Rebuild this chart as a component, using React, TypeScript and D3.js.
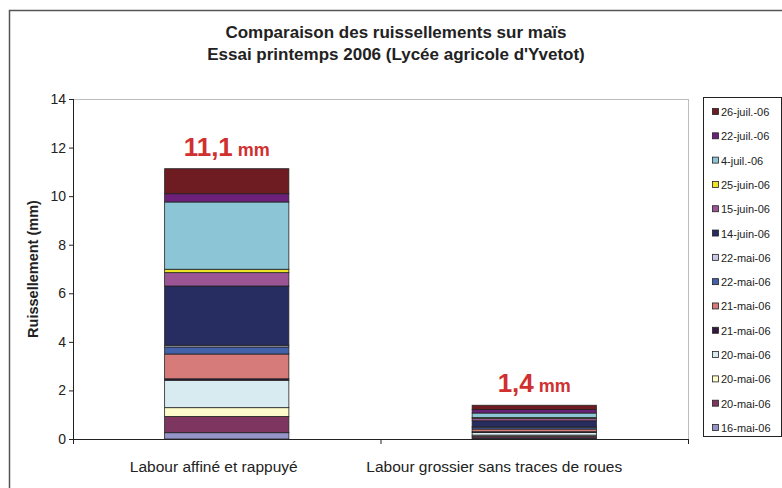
import React from "react";
import * as d3 from "d3";

// categories (x axis)
const categories = ["Labour affiné et rappuyé", "Labour grossier sans traces de roues"];

// series, bottom of the stack first
const seriesNames = [
  "16-mai-06",
  "20-mai-06",
  "20-mai-06",
  "20-mai-06",
  "21-mai-06",
  "21-mai-06",
  "22-mai-06",
  "22-mai-06",
  "14-juin-06",
  "15-juin-06",
  "25-juin-06",
  "4-juil.-06",
  "22-juil.-06",
  "26-juil.-06",
];
const seriesColors = [
  "#9494C8",
  "#7E3560",
  "#FFFCCB",
  "#D8EBF1",
  "#34183F",
  "#D67A7A",
  "#4361A8",
  "#C9C8E6",
  "#272C61",
  "#9B5595",
  "#EDE428",
  "#8BC5D6",
  "#6C2079",
  "#6E1C21",
];

// values per series for [bar 1, bar 2]
const valuesAffine = [0.26, 0.67, 0.36, 1.13, 0.06, 1.02, 0.29, 0.07, 2.44, 0.55, 0.14, 2.77, 0.34, 1.03];
const valuesGrossier = [0.04, 0.07, 0.05, 0.11, 0.03, 0.11, 0.08, 0.01, 0.25, 0.1, 0.03, 0.19, 0.14, 0.18];

const totalLabels = ["11,1", "1,4"];
const yTicks = [0, 2, 4, 6, 8, 10, 12, 14];

const FONT = "Arial, 'Liberation Sans', sans-serif";

export default function App() {
  // plot area
  const left = 73;
  const right = 688;
  const top = 99;
  const bottom = 439;

  const x = d3.scaleBand().domain(categories).range([left, right]).padding(0);
  const y = d3.scaleLinear().domain([0, 14]).range([bottom, top]);
  const barW = x.bandwidth() * 0.404;
  // category labels sit a bit left of the bar centre in the original
  const labelShift = [-13, -40];

  const keys = seriesNames.map((_, i) => "s" + i);
  const rows = categories.map((c, ci) => {
    const row: any = { cat: c };
    keys.forEach((k, i) => {
      row[k] = ci === 0 ? valuesAffine[i] : valuesGrossier[i];
    });
    return row;
  });
  const stacked = d3.stack().keys(keys)(rows);
  const totals = rows.map((r) => d3.sum(keys, (k) => r[k]));

  // legend (top item = last series)
  const legendOrder = seriesNames.map((_, i) => i).reverse();
  const legendY = d3.scalePoint().domain(legendOrder.map(String)).range([112, 428]);

  return (
    <svg width={782} height={488} style={{ position: "absolute", left: 0, top: 0 }}>
      <rect x={0} y={0} width={782} height={488} fill="#fff" />
      {/* chart border */}
      <rect x={9.5} y={10.5} width={790} height={500} fill="none" stroke="#555" strokeWidth={1.5} />

      {/* title */}
      <text x={396} y={38} textAnchor="middle" fontFamily={FONT} fontWeight="bold" fontSize={17} fill="#222">
        Comparaison des ruissellements sur maïs
      </text>
      <text x={396} y={60} textAnchor="middle" fontFamily={FONT} fontWeight="bold" fontSize={17} fill="#222">
        Essai printemps 2006 (Lycée agricole d'Yvetot)
      </text>

      {/* plot area border */}
      <line x1={left} x2={right} y1={top + 0.5} y2={top + 0.5} stroke="#BDBDBD" />
      <line x1={right + 0.5} x2={right + 0.5} y1={top} y2={bottom} stroke="#BDBDBD" />

      {/* bars */}
      {stacked.map((layer, li) => (
        <g key={li}>
          {layer.map((d, ci) => {
            const cx = (x(categories[ci]) as number) + x.bandwidth() / 2;
            return (
              <rect
                key={ci}
                x={cx - barW / 2}
                y={y(d[1])}
                width={barW}
                height={Math.max(0, y(d[0]) - y(d[1]))}
                fill={seriesColors[li]}
                stroke="#222"
                strokeWidth={0.8}
              />
            );
          })}
        </g>
      ))}

      {/* y axis */}
      <line x1={left + 0.5} x2={left + 0.5} y1={top} y2={bottom} stroke="#222" />
      {yTicks.map((t) => (
        <g key={t}>
          <line x1={left - 4} x2={left} y1={y(t) + 0.5} y2={y(t) + 0.5} stroke="#222" />
          <text x={left - 7} y={y(t) + 5} textAnchor="end" fontFamily={FONT} fontSize={14} fill="#222">
            {t}
          </text>
        </g>
      ))}
      <text
        transform={`translate(38,${(top + bottom) / 2}) rotate(-90)`}
        textAnchor="middle"
        fontFamily={FONT}
        fontWeight="bold"
        fontSize={14.5}
        fill="#222"
      >
        Ruissellement (mm)
      </text>

      {/* x axis */}
      <line x1={left} x2={right} y1={bottom + 0.5} y2={bottom + 0.5} stroke="#222" />
      {[left, left + x.bandwidth(), right].map((tx, i) => (
        <line key={i} x1={tx + 0.5} x2={tx + 0.5} y1={bottom} y2={bottom + 5} stroke="#222" />
      ))}
      {categories.map((c, ci) => (
        <text
          key={c}
          x={(x(c) as number) + x.bandwidth() / 2}
          dx={labelShift[ci]}
          y={472}
          textAnchor="middle"
          fontFamily={FONT}
          fontSize={15.5}
          fill="#222"
        >
          {c}
        </text>
      ))}

      {/* totals */}
      {categories.map((c, ci) => (
        <text
          key={c}
          x={(x(c) as number) + x.bandwidth() / 2}
          y={y(totals[ci]) - 13}
          textAnchor="middle"
          fontFamily={FONT}
          fontWeight="bold"
          fill="#D0302F"
        >
          <tspan fontSize={26}>{totalLabels[ci]}</tspan>
          <tspan fontSize={18}> mm</tspan>
        </text>
      ))}

      {/* legend */}
      <rect x={703.5} y={97.5} width={78} height={339} fill="#fff" stroke="#222" />
      {legendOrder.map((i) => {
        const ly = legendY(String(i)) as number;
        return (
          <g key={i}>
            <rect x={712.5} y={ly - 3.5} width={6} height={6} fill={seriesColors[i]} stroke="#222" strokeWidth={0.8} />
            <text x={721} y={ly + 4} fontFamily={FONT} fontSize={11} fill="#222">
              {seriesNames[i]}
            </text>
          </g>
        );
      })}
    </svg>
  );
}
